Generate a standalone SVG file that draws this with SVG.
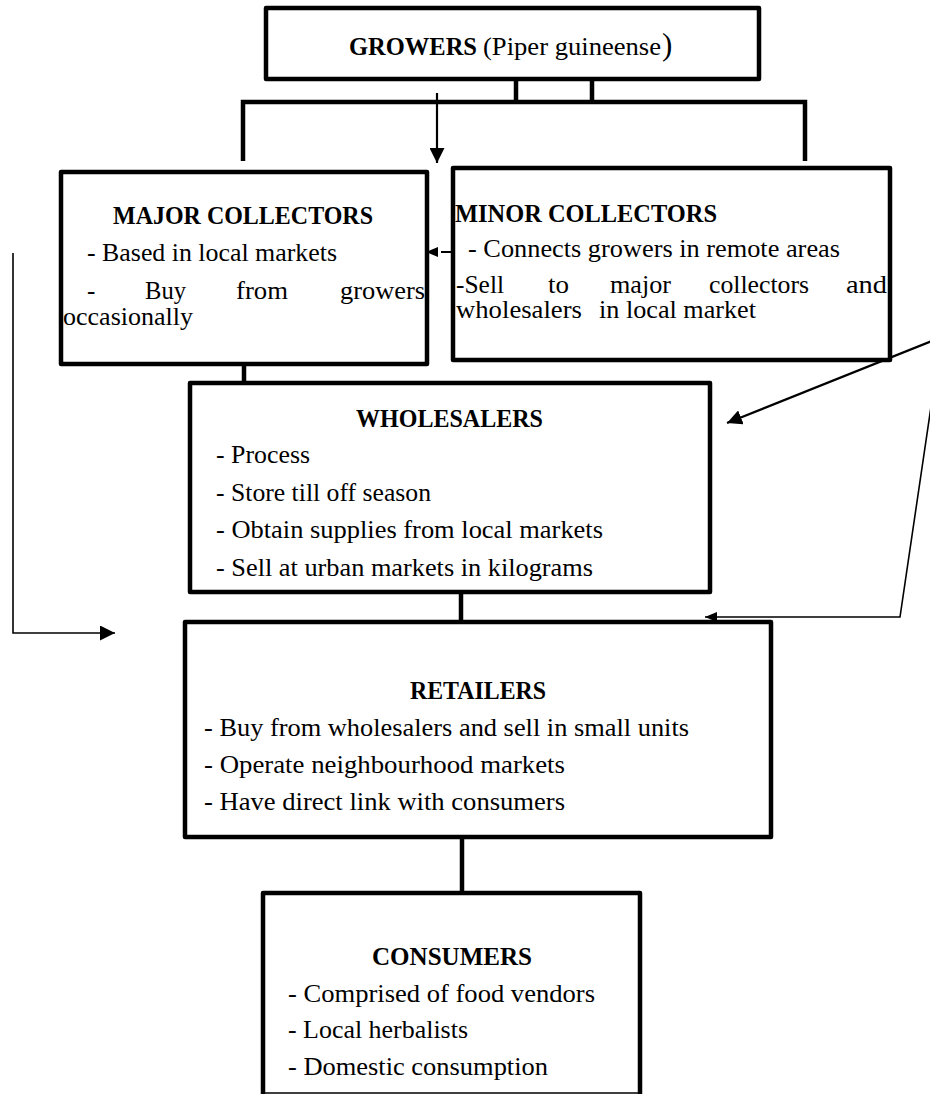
<svg xmlns="http://www.w3.org/2000/svg" width="930" height="1094" viewBox="0 0 930 1094">
<style>
text{font-family:"Liberation Serif","Times New Roman",serif;font-size:25px;fill:#000}
.h{font-weight:bold}
.box{fill:#fff;stroke:#000;stroke-width:4.5;stroke-linejoin:round}
.thick{fill:none;stroke:#000;stroke-width:4.5}
.mid{fill:none;stroke:#000;stroke-width:2.2}
.thin{fill:none;stroke:#000;stroke-width:1.6}
</style>
<defs>
<marker id="ah" viewBox="0 0 15 15" refX="15" refY="7.5" markerWidth="15" markerHeight="15" markerUnits="userSpaceOnUse" orient="auto"><path d="M0,0 L15,7.5 L0,15 z" fill="#000"/></marker>
<marker id="ahs" viewBox="0 0 12 10" refX="12" refY="5" markerWidth="12" markerHeight="10" markerUnits="userSpaceOnUse" orient="auto"><path d="M0,0 L12,5 L0,10 z" fill="#000"/></marker>
</defs>
<rect width="930" height="1094" fill="#fff"/>
<g id="connectors">
<path class="thick" d="M516,79 V102 M592,79 V102"/>
<path class="thick" d="M243,161 V102 H805 V161"/>
<path class="mid" d="M437,93 V163" marker-end="url(#ah)"/>
<path class="mid" d="M451,252 H426" stroke-dasharray="10 3" marker-end="url(#ahs)"/>
<path class="thick" d="M244,364 V383"/>
<path class="thick" d="M461,592 V622"/>
<path class="thick" d="M462,837 V893"/>
<path class="thin" d="M13,253 V633 H115" marker-end="url(#ah)"/>
<path class="mid" d="M932,341 L727,423" marker-end="url(#ah)"/>
<path class="thin" d="M932,400 L900,617 H705" marker-end="url(#ahs)"/>
</g>
<g id="growers">
<rect class="box" x="266" y="8" width="493" height="71"/>
<text y="55"><tspan x="349" class="h" textLength="128" lengthAdjust="spacingAndGlyphs">GROWERS</tspan> <tspan x="483" textLength="178" lengthAdjust="spacingAndGlyphs">(Piper guineense</tspan><tspan x="662" font-size="31">)</tspan></text>
</g>
<g id="major-collectors">
<rect class="box" x="61" y="172" width="366" height="192"/>
<text class="h" x="113" y="224" textLength="260" lengthAdjust="spacingAndGlyphs">MAJOR COLLECTORS</text>
<text x="87" y="261" textLength="250" lengthAdjust="spacingAndGlyphs">- Based in local markets</text>
<text y="299"><tspan x="87">-</tspan> <tspan x="145" textLength="41" lengthAdjust="spacingAndGlyphs">Buy</tspan> <tspan x="236" textLength="52" lengthAdjust="spacingAndGlyphs">from</tspan> <tspan x="340" textLength="85" lengthAdjust="spacingAndGlyphs">growers</tspan></text>
<text x="63" y="325" textLength="130" lengthAdjust="spacingAndGlyphs">occasionally</text>
</g>
<g id="minor-collectors">
<rect class="box" x="453" y="168" width="437" height="192"/>
<text class="h" x="455" y="222" textLength="262" lengthAdjust="spacingAndGlyphs">MINOR COLLECTORS</text>
<text x="468" y="257" textLength="372" lengthAdjust="spacingAndGlyphs">- Connects growers in remote areas</text>
<text y="293"><tspan x="456" textLength="48" lengthAdjust="spacingAndGlyphs">-Sell</tspan> <tspan x="548" textLength="21" lengthAdjust="spacingAndGlyphs">to</tspan> <tspan x="610" textLength="61" lengthAdjust="spacingAndGlyphs">major</tspan> <tspan x="709" textLength="100" lengthAdjust="spacingAndGlyphs">collectors</tspan> <tspan x="846" textLength="41" lengthAdjust="spacingAndGlyphs">and</tspan></text>
<text y="318"><tspan x="456" textLength="126" lengthAdjust="spacingAndGlyphs">wholesalers</tspan> <tspan x="599" textLength="157" lengthAdjust="spacingAndGlyphs">in local market</tspan></text>
</g>
<g id="wholesalers">
<rect class="box" x="190" y="383" width="520" height="209"/>
<text class="h" x="356" y="427" textLength="187" lengthAdjust="spacingAndGlyphs">WHOLESALERS</text>
<text x="216" y="463" textLength="94" lengthAdjust="spacingAndGlyphs">- Process</text>
<text x="216" y="501" textLength="215" lengthAdjust="spacingAndGlyphs">- Store till off season</text>
<text x="216" y="538" textLength="387" lengthAdjust="spacingAndGlyphs">- Obtain supplies from local markets</text>
<text x="216" y="576" textLength="377" lengthAdjust="spacingAndGlyphs">- Sell at urban markets in kilograms</text>
</g>
<g id="retailers">
<rect class="box" x="185" y="622" width="586" height="215"/>
<text class="h" x="410" y="699" textLength="136" lengthAdjust="spacingAndGlyphs">RETAILERS</text>
<text x="204" y="736" textLength="485" lengthAdjust="spacingAndGlyphs">- Buy from wholesalers and sell in small units</text>
<text x="204" y="773" textLength="361" lengthAdjust="spacingAndGlyphs">- Operate neighbourhood markets</text>
<text x="204" y="810" textLength="361" lengthAdjust="spacingAndGlyphs">- Have direct link with consumers</text>
</g>
<g id="consumers">
<rect x="263" y="893" width="377" height="200" fill="#fff"/>
<path class="thick" d="M263,1094 V893 H640 V1094" stroke-linejoin="round"/>
<path class="thin" d="M263,1093 H640"/>
<text class="h" x="372" y="965" textLength="160" lengthAdjust="spacingAndGlyphs">CONSUMERS</text>
<text x="288" y="1002" textLength="307" lengthAdjust="spacingAndGlyphs">- Comprised of food vendors</text>
<text x="288" y="1038" textLength="180" lengthAdjust="spacingAndGlyphs">- Local herbalists</text>
<text x="288" y="1075" textLength="260" lengthAdjust="spacingAndGlyphs">- Domestic consumption</text>
</g>
</svg>
